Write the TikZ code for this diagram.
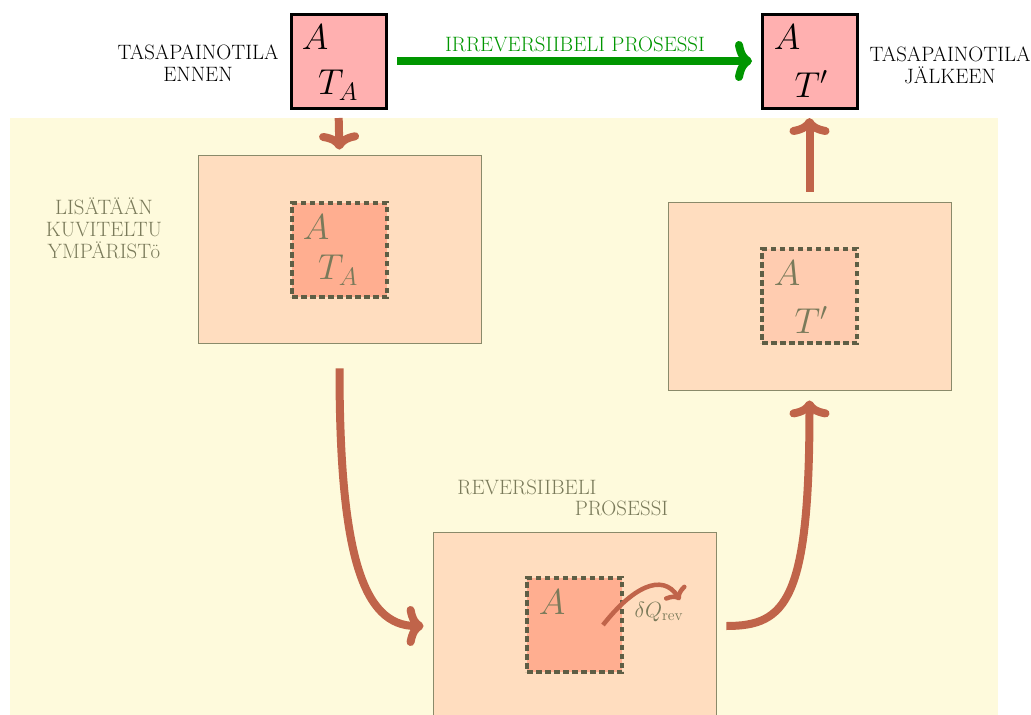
\RequirePackage{fix-cm}
\documentclass[tikz,border=0pt]{standalone}
\usetikzlibrary{arrows.meta}
\definecolor{bgyellow}{HTML}{FEFADC}
\definecolor{envfill}{HTML}{FFDDBF}
\definecolor{envline}{HTML}{8A8A6A}
\definecolor{innerA}{HTML}{FFAE90}
\definecolor{innerB}{HTML}{FFCCB0}
\definecolor{toppink}{HTML}{FFB0B0}
\definecolor{brownarr}{HTML}{C0644A}
\definecolor{greenarr}{HTML}{009600}
\definecolor{olivetxt}{HTML}{7A7A5A}
\definecolor{olivedash}{HTML}{5E5E45}
\tikzset{
  lbl/.style={font=\fontsize{20.8}{22}\selectfont, align=center, inner sep=0pt},
  mathbig/.style={font=\fontsize{36}{40}\selectfont, inner sep=0pt},
  topbox/.style={draw=black, line width=3pt, fill=toppink, minimum width=95pt, minimum height=94pt, inner sep=0pt},
  envbox/.style={draw=envline, line width=0.8pt, fill=envfill, minimum width=283pt, minimum height=188pt, inner sep=0pt},
  innerbox/.style={draw=olivedash, line width=3.2pt, dash pattern=on 5.5pt off 3.5pt, minimum width=95pt, minimum height=94pt, inner sep=0pt},
  bigarrow/.style={draw=brownarr, line width=8pt, -{To[round, length=17pt, width=40pt]}},
}
\begin{document}
\begin{tikzpicture}[x=1pt, y=-1pt]
\useasboundingbox (0,0) rectangle (1031,715);
\fill[bgyellow] (10,118) rectangle (998,715);

% top boxes
\node[topbox] (top1) at (338.5,61) {};
\node[topbox] (top2) at (809.5,61) {};
\node[mathbig] (t1a) at (315,37) {$A$};
\node[mathbig] (t1t) at (338,85) {$T_A$};
\node[mathbig] (t2a) at (787,37) {$A$};
\node[mathbig] (t2t) at (811,84) {$T'$};

\node[lbl] (lblbefore) at (198,63) {TASAPAINOTILA\\ENNEN};
\node[lbl] (lblafter) at (950,65) {TASAPAINOTILA\\J\"ALKEEN};
\node[lbl, text=greenarr] (lblirr) at (575,44) {IRREVERSIIBELI PROSESSI};

% environment boxes
\node[envbox] (env1) at (339.5,249) {};
\node[envbox] (env3) at (809.5,296) {};
\node[envbox] (env2) at (574.5,626) {};

\node[innerbox, fill=innerA] (in1) at (339.5,250) {};
\node[innerbox, fill=innerB] (in3) at (809.5,296) {};
\node[innerbox, fill=innerA] (in2) at (574.5,625) {};

\node[mathbig, text=olivetxt] (e1a) at (316,227) {$A$};
\node[mathbig, text=olivetxt] (e1t) at (338,270) {$T_A$};
\node[mathbig, text=olivetxt] (e3a) at (787,273) {$A$};
\node[mathbig, text=olivetxt] (e3t) at (811,320) {$T'$};
\node[mathbig, text=olivetxt] (e2a) at (552,602) {$A$};

\node[lbl, text=olivetxt] (lbladd) at (104,228) {LIS\"AT\"A\"AN\\KUVITELTU\\YMP\"ARISTö};
\node[lbl, text=olivetxt] (lblrev1) at (527,487) {REVERSIIBELI};
\node[lbl, text=olivetxt] (lblrev2) at (621.5,508) {PROSESSI};

% connectors
\draw[bigarrow, draw=greenarr, shorten <=9.5pt, shorten >=8.5pt] (top1.east) -- (top2.west);
\draw[bigarrow, shorten <=8.5pt, shorten >=5pt] (top1.south) -- (env1.north);
\draw[bigarrow, shorten <=25pt, shorten >=9pt] (env1.south) .. controls +(0,210) and +(-70,0) .. (env2.west);
\draw[bigarrow, shorten <=10pt, shorten >=10pt] (env2.east) .. controls +(70,0) and +(0,210) .. (env3.south);
\draw[bigarrow, shorten <=10pt, shorten >=8.5pt] (env3.north) -- (top2.south);

% heat flow
\coordinate (q0) at (603,625);
\coordinate (q1) at (680,600);
\draw[draw=brownarr, line width=4.5pt, -{To[round, length=11pt, width=26pt]}] (q0) .. controls (632,588) and (662,572) .. (q1);
\node[font=\fontsize{22}{24}\selectfont, text=olivetxt, inner sep=0pt] (dq) at (659,612) {$\delta Q_{\mathrm{rev}}$};
\end{tikzpicture}
\end{document}
